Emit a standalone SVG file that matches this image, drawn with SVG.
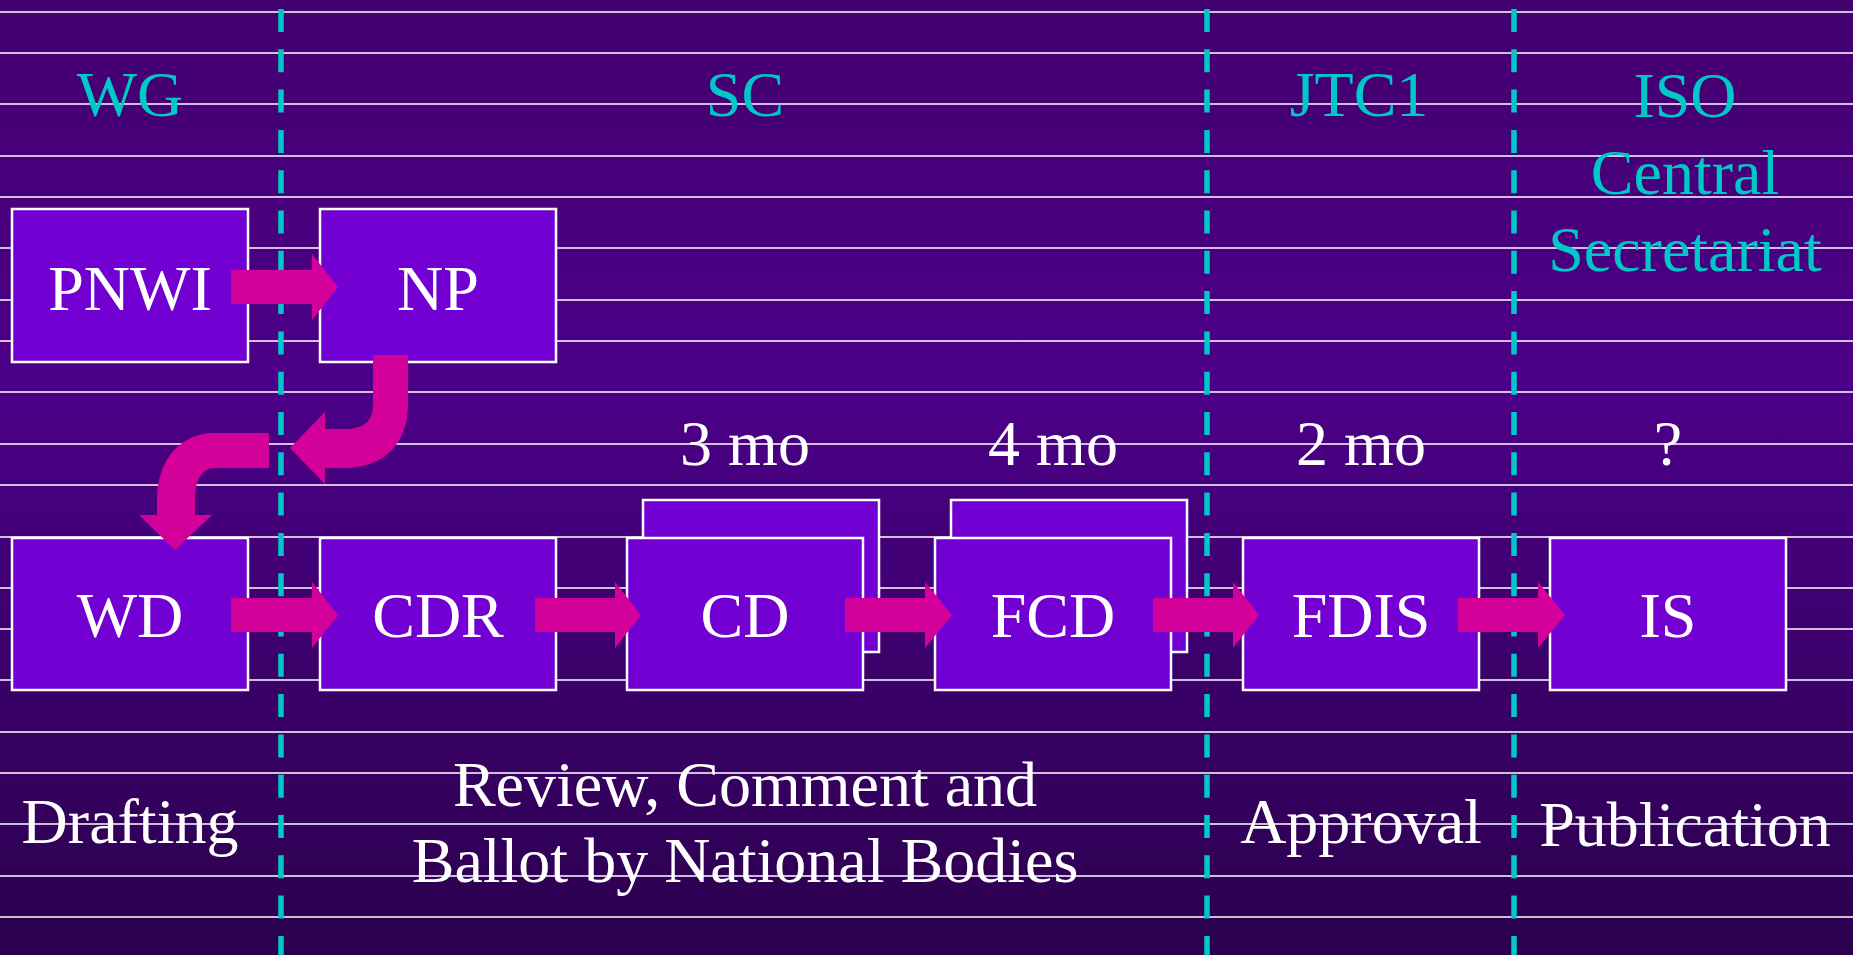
<svg xmlns="http://www.w3.org/2000/svg" width="1853" height="955" viewBox="0 0 1853 955">
<defs>
<linearGradient id="bg" x1="0" y1="0" x2="0" y2="1">
<stop offset="0" stop-color="#43006f"/>
<stop offset="0.4" stop-color="#4c0088"/>
<stop offset="1" stop-color="#2b004d"/>
</linearGradient>
</defs>
<style>
.hl{stroke:#ffffff;stroke-width:1.3}
.dv{stroke:#00c8c8;stroke-width:5.5;stroke-dasharray:23 17.3}
.box{fill:#7200d2;stroke:#ffffff;stroke-width:2.5}
.arr{fill:#d4009a}
.t{font-family:"Liberation Serif","Times New Roman",serif;font-size:64px;text-anchor:middle}
.w{fill:#ffffff}
.c{fill:#00c8c8}
</style>
<rect x="0" y="0" width="1853" height="955" fill="url(#bg)"/>
<g id="grid">
<line class="hl" x1="0" y1="12" x2="1853" y2="12"/>
<line class="hl" x1="0" y1="53" x2="1853" y2="53"/>
<line class="hl" x1="0" y1="104" x2="1853" y2="104"/>
<line class="hl" x1="0" y1="156" x2="1853" y2="156"/>
<line class="hl" x1="0" y1="197" x2="1853" y2="197"/>
<line class="hl" x1="0" y1="248" x2="1853" y2="248"/>
<line class="hl" x1="0" y1="300" x2="1853" y2="300"/>
<line class="hl" x1="0" y1="341" x2="1853" y2="341"/>
<line class="hl" x1="0" y1="392" x2="1853" y2="392"/>
<line class="hl" x1="0" y1="444" x2="1853" y2="444"/>
<line class="hl" x1="0" y1="485" x2="1853" y2="485"/>
<line class="hl" x1="0" y1="537" x2="1853" y2="537"/>
<line class="hl" x1="0" y1="588" x2="1853" y2="588"/>
<line class="hl" x1="0" y1="629" x2="1853" y2="629"/>
<line class="hl" x1="0" y1="680" x2="1853" y2="680"/>
<line class="hl" x1="0" y1="732" x2="1853" y2="732"/>
<line class="hl" x1="0" y1="773" x2="1853" y2="773"/>
<line class="hl" x1="0" y1="824" x2="1853" y2="824"/>
<line class="hl" x1="0" y1="876" x2="1853" y2="876"/>
<line class="hl" x1="0" y1="917" x2="1853" y2="917"/>
</g>
<g id="dividers">
<line class="dv" x1="281" y1="9" x2="281" y2="955"/>
<line class="dv" x1="1207" y1="9" x2="1207" y2="955"/>
<line class="dv" x1="1514" y1="9" x2="1514" y2="955"/>
</g>
<g id="headers" class="t c">
<text x="130" y="116">WG</text>
<text x="745" y="116">SC</text>
<text x="1359" y="116">JTC1</text>
<text x="1685" y="117">ISO</text>
<text x="1685" y="194">Central</text>
<text x="1685" y="271">Secretariat</text>
</g>
<g id="node-PNWI">
<rect class="box" x="12" y="209" width="236" height="153"/>
<text class="t w" x="130" y="310">PNWI</text>
</g>
<g id="node-NP">
<rect class="box" x="320" y="209" width="236" height="153"/>
<text class="t w" x="438" y="310">NP</text>
</g>
<g id="node-WD">
<rect class="box" x="12" y="538" width="236" height="152"/>
<text class="t w" x="130" y="637">WD</text>
</g>
<g id="node-CDR">
<rect class="box" x="320" y="538" width="236" height="152"/>
<text class="t w" x="438" y="637">CDR</text>
</g>
<g id="node-CD">
<rect class="box" x="643" y="500" width="236" height="152"/>
<rect class="box" x="627" y="538" width="236" height="152"/>
<text class="t w" x="745" y="637">CD</text>
<text class="t w" x="745" y="465">3 mo</text>
</g>
<g id="node-FCD">
<rect class="box" x="951" y="500" width="236" height="152"/>
<rect class="box" x="935" y="538" width="236" height="152"/>
<text class="t w" x="1053" y="637">FCD</text>
<text class="t w" x="1053" y="465">4 mo</text>
</g>
<g id="node-FDIS">
<rect class="box" x="1243" y="538" width="236" height="152"/>
<text class="t w" x="1361" y="637">FDIS</text>
<text class="t w" x="1361" y="465">2 mo</text>
</g>
<g id="node-IS">
<rect class="box" x="1550" y="538" width="236" height="152"/>
<text class="t w" x="1668" y="637">IS</text>
<text class="t w" x="1668" y="465">?</text>
</g>
<g id="connectors" class="arr">
<polygon points="231,270 312,270 312,254 338,287 312,320 312,304 231,304"/>
<path d="M373,355 L408,355 L408,405 C408,442 385,468 345,468 L325,468 L325,484 L290,448 L325,412 L325,429 L345,429 C365,429 373,420 373,405 Z"/>
<path d="M269,433 L215,433 C180,433 157,460 157,500 L157,515 L139,515 L175,550 L212,515 L195,515 L195,500 C195,480 202,468 215,468 L269,468 Z"/>
<polygon points="231,598 312,598 312,582 338,615 312,648 312,632 231,632"/>
<polygon points="535,598 615,598 615,582 641,615 615,648 615,632 535,632"/>
<polygon points="845,598 925,598 925,582 952,615 925,648 925,632 845,632"/>
<polygon points="1153,598 1233,598 1233,582 1259,615 1233,648 1233,632 1153,632"/>
<polygon points="1458,598 1538,598 1538,582 1565,615 1538,648 1538,632 1458,632"/>
</g>
<g id="phases" class="t w">
<text x="130" y="843">Drafting</text>
<text x="745" y="806">Review, Comment and</text>
<text x="745" y="882">Ballot by National Bodies</text>
<text x="1361" y="843">Approval</text>
<text x="1685" y="846">Publication</text>
</g>
</svg>
